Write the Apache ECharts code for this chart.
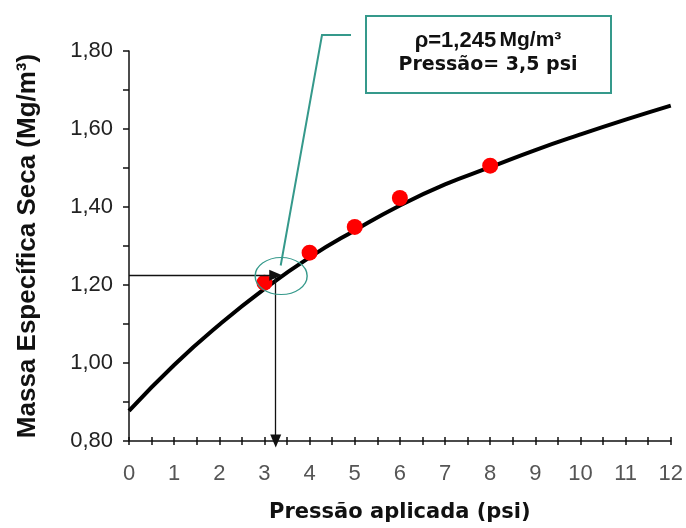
<!DOCTYPE html>
<html>
<head>
<meta charset="utf-8">
<script src="https://cdn.jsdelivr.net/npm/echarts@6/dist/echarts.min.js"></script>
<style>
  html, body { margin: 0; padding: 0; background: #fff; }
  #chart { width: 686px; height: 528px; }
</style>
</head>
<body>
<div id="chart"></div>
<script>
// curva de compactação
const pressaoCurva = [0, 1, 2, 3, 4, 5, 6, 7, 8, 9, 10, 11, 12];
const massaCurva = [0.877, 0.995, 1.098, 1.19, 1.271, 1.34, 1.404, 1.458, 1.502, 1.546, 1.586, 1.624, 1.66];

// pontos de ensaio
const pressaoEnsaio = [3, 4, 5, 6, 8];
const massaEnsaio = [1.206, 1.283, 1.349, 1.423, 1.506];

// leitura das setas e destaque
const leitura = [3.25, 1.225];
const destaque = [3.37, 1.223];
const pontaChamada = [3.36, 1.25];
const textoCaixa = ['ρ=1,245', 'Mg/m³', 'Pressão= 3,5 psi'];

const teal = '#35998b';

let chart = echarts.init(document.getElementById('chart'));

const xBase = {
  type: 'value', min: 0, max: 12, interval: 0.5,
  splitLine: {show: false}
};
const yBase = {
  type: 'value', min: 0.8, max: 1.8, interval: 0.1,
  splitLine: {show: false}
};

chart.setOption({
  animation: false,
  grid: {left: 129, right: 13, top: 51, bottom: 86},
  xAxis: [
    Object.assign({}, xBase, {
      name: 'Pressão aplicada (psi)',
      nameLocation: 'middle',
      nameGap: 61,
      nameTextStyle: {fontFamily: 'DejaVu Sans', fontWeight: 'bold', fontSize: 21, color: '#111'},
      axisLine: {lineStyle: {color: '#111', width: 1.5}},
      axisTick: {length: 4, lineStyle: {color: '#111', width: 1.5}},
      axisLabel: {
        margin: 22, fontSize: 22, color: '#555',
        fontFamily: '"Liberation Sans Narrow", "Liberation Sans", sans-serif',
        formatter: v => Number.isInteger(v) ? String(v) : ''
      }
    }),
    Object.assign({}, xBase, {
      position: 'bottom',
      axisLine: {show: false},
      axisTick: {inside: true, length: 4, lineStyle: {color: '#111', width: 1.5}},
      axisLabel: {show: false}
    })
  ],
  yAxis: [
    Object.assign({}, yBase, {
      name: 'Massa Específica Seca (Mg/m³)',
      nameLocation: 'middle',
      nameGap: 88,
      nameTextStyle: {fontFamily: 'Liberation Sans', fontWeight: 'bold', fontSize: 26, color: '#111'},
      axisLine: {lineStyle: {color: '#111', width: 1.5}},
      axisTick: {length: 6, lineStyle: {color: '#111', width: 1.5}},
      axisLabel: {
        margin: 16, fontSize: 22, color: '#222', fontFamily: 'Liberation Sans',
        formatter: v => {
          const k = Math.round(v * 10);
          return k % 2 === 0 ? (k / 10).toFixed(2).replace('.', ',') : '';
        }
      }
    }),
    Object.assign({}, yBase, {
      axisLine: {show: false},
      axisTick: {inside: true, length: 6, lineStyle: {color: '#111', width: 1.5}},
      axisLabel: {show: false}
    })
  ],
  series: [
    {
      type: 'line',
      data: pressaoCurva.map((x, i) => [x, massaCurva[i]]),
      smooth: 0.5,
      symbol: 'none',
      lineStyle: {color: '#000', width: 4},
      silent: true,
      z: 3,
      markLine: {
        silent: true,
        symbol: ['none', 'triangle'],
        symbolSize: [11, 13],
        label: {show: false},
        lineStyle: {color: '#111', width: 1.3, type: 'solid'},
        data: [
          [{coord: [0, leitura[1]]}, {coord: [leitura[0], leitura[1]]}],
          [{coord: [leitura[0], leitura[1]]}, {coord: [leitura[0], 0.8]}]
        ]
      }
    },
    {
      type: 'scatter',
      data: pressaoEnsaio.map((x, i) => [x, massaEnsaio[i]]),
      symbolSize: 16,
      itemStyle: {color: '#ff0000', opacity: 1},
      silent: true,
      z: 4
    },
    {
      type: 'scatter',
      data: [destaque],
      symbolSize: [52, 37],
      itemStyle: {color: 'rgba(0,0,0,0)', borderColor: teal, borderWidth: 1.2, opacity: 1},
      silent: true,
      z: 5
    }
  ]
});

// caixa de texto e linha de chamada
const alvo = chart.convertToPixel({gridIndex: 0}, pontaChamada);
chart.setOption({
  graphic: [
    {
      type: 'polyline',
      shape: {points: [[351, 35], [322, 35], alvo]},
      style: {stroke: teal, lineWidth: 2, fill: null},
      z: 10
    },
    {
      type: 'rect',
      shape: {x: 366, y: 16, width: 245, height: 77},
      style: {stroke: teal, lineWidth: 2, fill: '#fff'},
      z: 10
    },
    {
      type: 'text',
      x: 488, y: 53,
      style: {
        text: '{a|' + textoCaixa[0] + '} {b|' + textoCaixa[1] + '}\n{c|' + textoCaixa[2] + '}',
        align: 'center',
        verticalAlign: 'middle',
        fill: '#111',
        rich: {
          a: {fontFamily: 'Liberation Sans', fontWeight: 'bold', fontSize: 22, lineHeight: 25},
          b: {fontFamily: 'Liberation Sans', fontWeight: 'bold', fontSize: 21, lineHeight: 25},
          c: {fontFamily: 'DejaVu Sans', fontWeight: 'bold', fontSize: 19, lineHeight: 25}
        }
      },
      z: 11
    }
  ]
});
</script>
</body>
</html>
